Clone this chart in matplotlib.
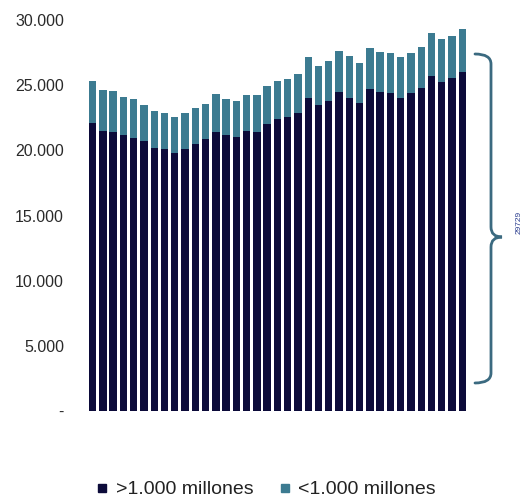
import numpy as np
import matplotlib
matplotlib.use("Agg")
import matplotlib.pyplot as plt
from matplotlib.path import Path
from matplotlib.patches import PathPatch

# values (37 periods, no x labels)
big = [22130, 21490, 21440, 21150, 20970, 20720, 20150, 20130, 19820, 20130,
       20460, 20850, 21410, 21150, 21030, 21490, 21440, 22000, 22380, 22590,
       22900, 24050, 23460, 23770, 24490, 24020, 23620, 24740, 24490, 24380,
       24020, 24380, 24820, 25690, 25280, 25540, 25980]
total = [25330, 24640, 24540, 24130, 23920, 23510, 22980, 22900, 22590, 22900,
         23210, 23590, 24310, 23920, 23790, 24230, 24230, 24900, 25330, 25510,
         25850, 27180, 26440, 26850, 27590, 27210, 26720, 27850, 27560, 27490,
         27150, 27490, 27950, 28980, 28510, 28790, 29280]
small = [t - b for t, b in zip(total, big)]
labels = [">1.000 millones", "<1.000 millones"]
yticks = [0, 5000, 10000, 15000, 20000, 25000, 30000]
ytick_labels = ["-", "5.000", "10.000", "15.000", "20.000", "25.000", "30.000"]
brace_label = "29729"

dark = "#0c0b3a"
teal = "#3c7b91"

plt.rcParams['font.family'] = ['Liberation Sans', 'DejaVu Sans']

fig = plt.figure(figsize=(5.24, 5.0), dpi=100)
ax = fig.add_axes([0.167, 0.178, 0.725, 0.782])

x = np.arange(len(big))
ax.bar(x, big, width=0.72, color=dark, label=labels[0])
ax.bar(x, small, bottom=big, width=0.72, color=teal, label=labels[1])

ax.set_xlim(-0.5, len(big) - 0.5)
ax.set_ylim(0, 30000)
ax.set_yticks(yticks)
ax.set_yticklabels(ytick_labels, fontsize=11.5, color="#2a2a2a")
ax.set_xticks([])
ax.tick_params(axis="y", length=0, pad=17)
for s in ax.spines.values():
    s.set_visible(False)

# curly brace on the right, in figure pixels
W, H = 524.0, 500.0
def fx(px):
    return px / W
def fy(py):
    return 1 - py / H

xl, xv, xm = 475, 491, 502
yt, ym, yb = 54, 237, 383
r = 10
verts = [
    (xl, yt), (xv, yt), (xv, yt + r),
    (xv, ym - r),
    (xv, ym), (xm, ym),
    (xv, ym), (xv, ym + r),
    (xv, yb - r),
    (xv, yb), (xl, yb),
]
codes = [Path.MOVETO, Path.CURVE3, Path.CURVE3,
         Path.LINETO,
         Path.CURVE3, Path.CURVE3,
         Path.CURVE3, Path.CURVE3,
         Path.LINETO,
         Path.CURVE3, Path.CURVE3]
path = Path([(fx(a), fy(b)) for a, b in verts], codes)
fig.add_artist(PathPatch(path, transform=fig.transFigure, fill=False,
                         edgecolor="#3b6a80", linewidth=2.0, capstyle="round"))
fig.text(fx(519), fy(222), brace_label, rotation=90, fontsize=6,
         color="#2b3d8f", ha="center", va="center")

handles = [
    plt.Line2D([], [], marker="s", linestyle="", markersize=5.5, color=dark),
    plt.Line2D([], [], marker="s", linestyle="", markersize=5.5, color=teal),
]
fig.legend(handles=handles, labels=labels, loc="center",
           bbox_to_anchor=(0.508, 0.021), ncol=2, frameon=False,
           fontsize=14, handletextpad=0.4, columnspacing=1.3,
           handlelength=0.6, labelcolor="#222222")

fig.savefig("out.png", dpi=100)
